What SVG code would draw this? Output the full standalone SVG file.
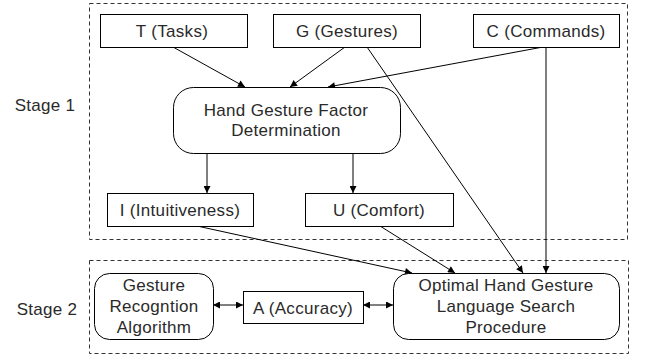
<svg xmlns="http://www.w3.org/2000/svg" width="648" height="356" viewBox="0 0 648 356">
<defs>
<marker id="ah" viewBox="0 0 10 10" refX="10" refY="5" markerWidth="9" markerHeight="7" markerUnits="userSpaceOnUse" orient="auto-start-reverse">
<path d="M0,0 L10,5 L0,10 z" fill="#000"/>
</marker>
<style>
.t{font-family:"Liberation Sans",Arial,sans-serif;font-size:17px;letter-spacing:0.3px;fill:#2a2a2a;text-anchor:middle}
.b{fill:#fff;stroke:#000;stroke-width:1}
.d{fill:none;stroke:#333;stroke-width:1;stroke-dasharray:4,3}
.c{fill:none;stroke:#000;stroke-width:1;marker-end:url(#ah)}
</style>
</defs>
<rect width="648" height="356" fill="#fff"/>
<g id="stages">
<rect class="d" x="89.5" y="3.5" width="538" height="236"/>
<rect class="d" x="89.5" y="260.5" width="539" height="93"/>
<text class="t" x="45" y="111">Stage 1</text>
<text class="t" x="47" y="315">Stage 2</text>
</g>
<g id="connectors">
<line class="c" x1="173" y1="47" x2="245" y2="87"/>
<line class="c" x1="345" y1="47" x2="290" y2="87"/>
<line class="c" x1="543" y1="47" x2="328" y2="87"/>
<line class="c" x1="367" y1="47" x2="523" y2="273"/>
<line class="c" x1="546" y1="47" x2="546" y2="273"/>
<line class="c" x1="207" y1="153" x2="207" y2="193"/>
<line class="c" x1="353" y1="153" x2="353" y2="193"/>
<line class="c" x1="197" y1="226" x2="412" y2="273"/>
<line class="c" x1="380" y1="226" x2="455" y2="273"/>
<line class="c" x1="213" y1="305" x2="243" y2="305" marker-start="url(#ah)"/>
<line class="c" x1="363" y1="305" x2="393" y2="305" marker-start="url(#ah)"/>
</g>
<g id="tasks"><rect class="b" x="100.5" y="14.5" width="147" height="33"/><text class="t" x="172" y="37">T (Tasks)</text></g>
<g id="gestures"><rect class="b" x="273.5" y="14.5" width="147" height="33"/><text class="t" x="347" y="37">G (Gestures)</text></g>
<g id="commands"><rect class="b" x="473.5" y="14.5" width="146" height="33"/><text class="t" x="546" y="37">C (Commands)</text></g>
<g id="factor"><rect class="b" x="173.5" y="87.5" width="227" height="66" rx="20" ry="20"/><text class="t" x="286" y="116">Hand Gesture Factor</text><text class="t" x="286" y="136">Determination</text></g>
<g id="intuitiveness"><rect class="b" x="107.5" y="193.5" width="146" height="33"/><text class="t" x="180" y="216">I (Intuitiveness)</text></g>
<g id="comfort"><rect class="b" x="305.5" y="193.5" width="148" height="33"/><text class="t" x="379" y="216">U (Comfort)</text></g>
<g id="recognition"><rect class="b" x="94.5" y="273.5" width="119" height="66" rx="15" ry="15"/><text class="t" x="154" y="291">Gesture</text><text class="t" x="154" y="312">Recogntion</text><text class="t" x="154" y="333">Algorithm</text></g>
<g id="accuracy"><rect class="b" x="243.5" y="291.5" width="120" height="32"/><text class="t" x="303" y="314">A (Accuracy)</text></g>
<g id="search"><rect class="b" x="393.5" y="273.5" width="226" height="66" rx="15" ry="15"/><text class="t" x="506" y="291">Optimal Hand Gesture</text><text class="t" x="506" y="312">Language Search</text><text class="t" x="506" y="333">Procedure</text></g>
</svg>
